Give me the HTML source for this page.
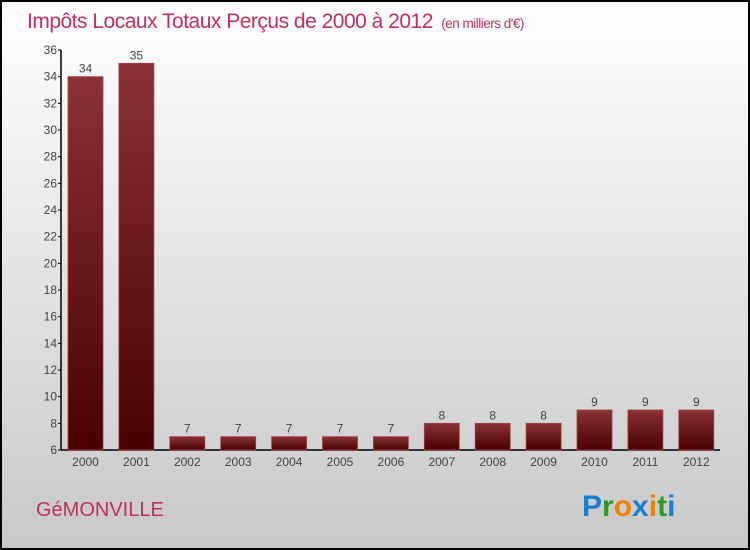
<!DOCTYPE html>
<html><head><meta charset="utf-8"><style>
html,body{margin:0;padding:0}
body{width:750px;height:550px;overflow:hidden;font-family:"Liberation Sans",sans-serif}
#frame{position:absolute;left:0;top:0;width:746px;height:546px;border:2px solid #000;background:linear-gradient(#ffffff,#c8c8c8)}
</style></head><body>
<div id="frame"></div>
<svg id="chart" width="750" height="550" style="position:absolute;left:0;top:0">
<defs>
<linearGradient id="bg" x1="0" y1="0" x2="0" y2="1">
<stop offset="0" stop-color="#8a3236"/><stop offset="1" stop-color="#4a0000"/>
</linearGradient>
</defs>
<text x="27" y="28" font-size="21" fill="#c0305a" style="font-family:'Liberation Sans',sans-serif;letter-spacing:-0.5px">Impôts Locaux Totaux Perçus de 2000 à 2012 <tspan font-size="13.5" dx="3">(en milliers d'€)</tspan></text>
<text x="36" y="516" font-size="20" fill="#c0305a">GéMONVILLE</text>
<g font-size="30" font-weight="bold" font-family="'Liberation Sans',sans-serif">
<text x="582" y="516"><tspan fill="#1a7fd0">P</tspan><tspan fill="#2a9a2a">r</tspan><tspan fill="#f08000">o</tspan><tspan fill="#1a7fd0">x</tspan><tspan fill="#f08000">i</tspan><tspan fill="#2a9a2a">t</tspan><tspan fill="#1a7fd0">i</tspan></text>
</g>
<g id="axes"></g>
<g id="bars"></g>
</svg>
<script>
const categories=["2000","2001","2002","2003","2004","2005","2006","2007","2008","2009","2010","2011","2012"];
const values=[34,35,7,7,7,7,7,8,8,8,9,9,9];
const yTicks=[6,8,10,12,14,16,18,20,22,24,26,28,30,32,34,36];
const NS="http://www.w3.org/2000/svg";
const y0=450,y1=50,vmin=6,vmax=36;
function yScale(v){return y0-(v-vmin)/(vmax-vmin)*(y0-y1);}
function xScale(i){return 85.5+i*50.9;}
function mk(t,a,p){const e=document.createElementNS(NS,t);for(const k in a)e.setAttribute(k,a[k]);p.appendChild(e);return e;}
const ax=document.getElementById('axes'),bg=document.getElementById('bars');
const yl=mk('line',{x1:61,y1:y1,x2:61,y2:y0,stroke:'#000','stroke-width':1.5},ax);


const xl=mk('line',{x1:61,y1:y0,x2:720,y2:y0,stroke:'#000','stroke-width':1.5},ax);


yTicks.forEach(v=>{
  const y=yScale(v);
  mk('line',{x1:58,y1:y,x2:61,y2:y,stroke:'#000'},ax);
  const t=mk('text',{x:57,y:y+4,'text-anchor':'end','font-size':12,fill:'#444'},ax);
  t.textContent=v;
  
  
});
categories.forEach((c,i)=>{
  const cx=xScale(i),v=values[i],y=yScale(v);
  const r=mk('rect',{x:cx-17.5,y:y,width:35,height:y0-y,fill:'url(#bg)',stroke:'#a04048','stroke-width':0.8},bg);
  
  
  const l=mk('text',{x:cx,y:y-4,'text-anchor':'middle','font-size':12,fill:'#444'},bg);
  l.textContent=v;
  
  
  const t=mk('text',{x:cx,y:466,'text-anchor':'middle','font-size':12,fill:'#444'},ax);
  t.textContent=c;
  
  
});
</script>
</body></html>
